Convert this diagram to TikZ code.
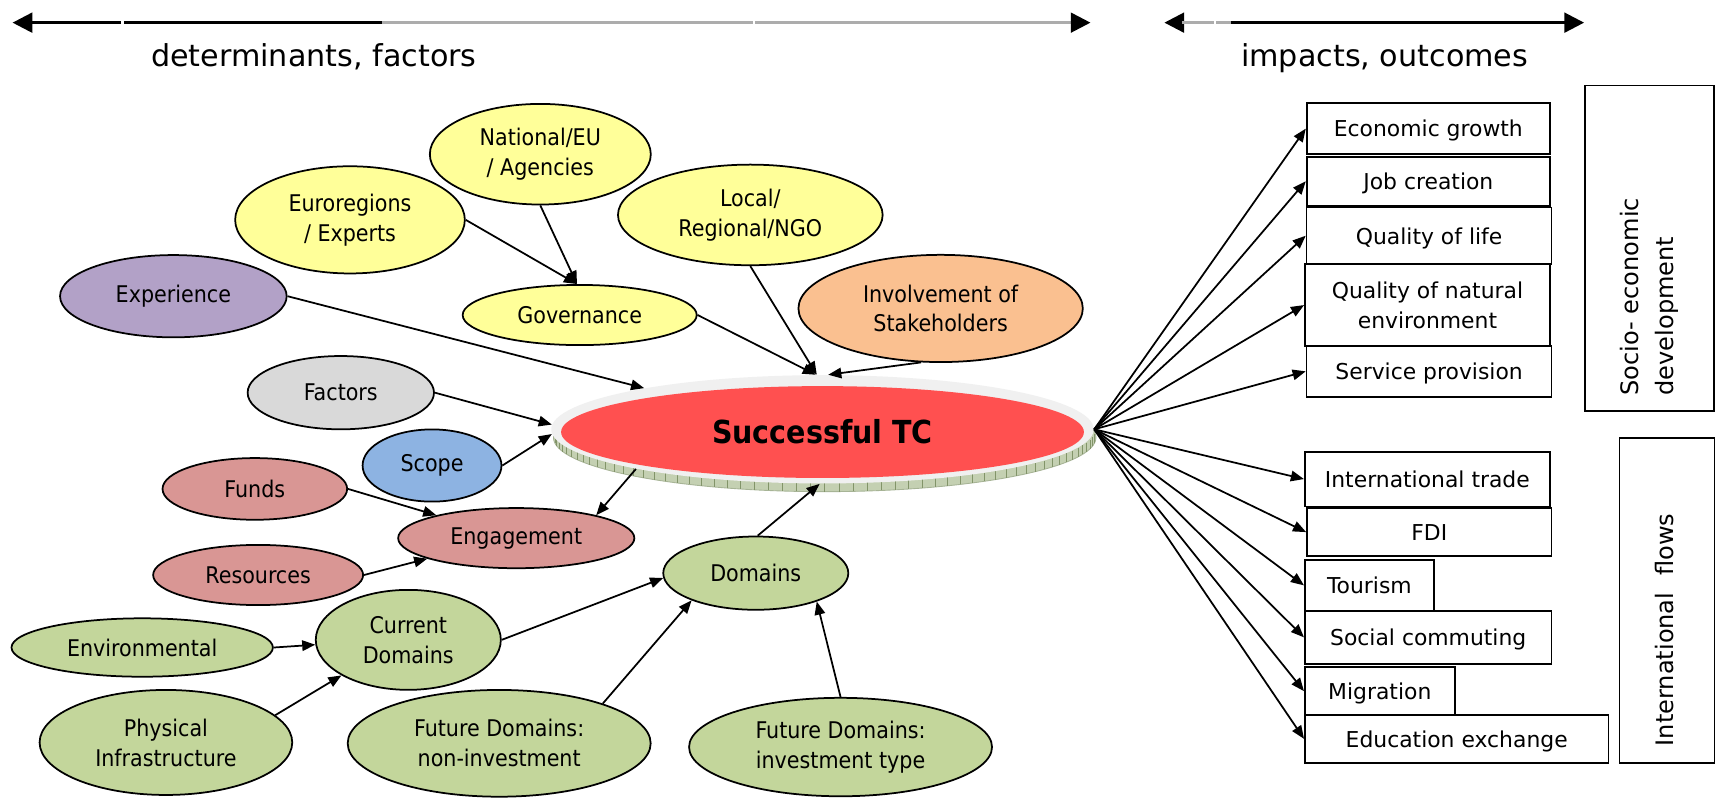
\documentclass[tikz,border=0pt]{standalone}
\usepackage{fontspec}
\setmainfont{DejaVu Sans}
\newfontfamily\condfont{DejaVu Sans Condensed}
\usetikzlibrary{shapes.geometric,arrows.meta}
\definecolor{cyel}{RGB}{255,255,153}
\definecolor{cpur}{RGB}{178,161,199}
\definecolor{cgry}{RGB}{217,217,217}
\definecolor{cblu}{RGB}{141,179,226}
\definecolor{cpnk}{RGB}{217,150,148}
\definecolor{cgrn}{RGB}{195,214,155}
\definecolor{corg}{RGB}{250,192,144}
\definecolor{cred}{RGB}{255,80,80}
\definecolor{cring}{RGB}{240,240,240}
\definecolor{cshad}{RGB}{196,208,178}
\definecolor{ctick}{RGB}{130,148,105}
\newcommand\ellfont{\condfont\fontsize{10.5}{13.7}\selectfont}
\newcommand\boxfont{\fontsize{10}{13.7}\selectfont}
\newcommand\rotfont{\fontsize{11}{16}\selectfont}
\newcommand\topfont{\fontsize{13.8}{16}\selectfont}
\tikzset{
  el/.style n args={3}{ellipse, draw=black, line width=0.8pt, fill=#1,
    minimum width=#2pt, minimum height=#3pt, inner sep=0pt, align=center, font=\ellfont},
  bx/.style 2 args={rectangle, draw=black, line width=0.8pt, minimum width=#1pt,
    minimum height=#2pt, inner sep=0pt, align=center, font=\boxfont, text depth=0pt},
  arr/.style={line width=0.8pt, -{Triangle[length=6pt,width=4.8pt]}},
  topline/.style={line width=1.3pt}
}
\begin{document}
\begin{tikzpicture}[x=0.5pt,y=-0.5pt]
\useasboundingbox (0,0) rectangle (1568,730);
\fill[white] (0,0) rectangle (1568,730);

% top axis arrows
\coordinate (la) at (11.5,20.7);
\coordinate (lm) at (349.5,20.7);
\coordinate (lb) at (997,20.7);
\draw[topline, draw=gray!65, {Triangle[length=9pt,width=9pt,color=black]}-{Triangle[length=9pt,width=9pt,color=black]}] (la) -- (lb);
\draw[topline, black, shorten <=8pt] (la) -- (lm);
\fill[white] (111,15) rectangle (113,26);
\fill[white] (688.5,15) rectangle (690.5,26);
\coordinate (ra) at (1064.6,20.7);
\coordinate (rm) at (1125.5,20.7);
\coordinate (rb) at (1448.3,20.7);
\draw[topline, black, {Triangle[length=9pt,width=9pt]}-{Triangle[length=9pt,width=9pt]}] (ra) -- (rb);
\draw[topline, draw=gray!65, shorten <=8pt] (ra) -- (rm);
\fill[white] (1110,15) rectangle (1112,26);
\node[font=\topfont] (detl) at (287,52) {determinants, factors};
\node[font=\topfont] (impl) at (1266,53) {impacts, outcomes};

% central ellipse
\fill[cshad, draw=ctick!70, line width=0.4pt] (754,400) ellipse [x radius=124pt, y radius=24.75pt];
\foreach \t in {186,189,...,354}
  \draw[ctick, line width=0.35pt] (754,400) ++(\t:124pt and 24.75pt) -- ++(0pt,4pt);
\node[ellipse, fill=cring, minimum width=248pt, minimum height=49.5pt, inner sep=0pt] (succ) at (752,392.5) {};
\node[ellipse, fill=cred, minimum width=239pt, minimum height=42pt, inner sep=0pt,
  font=\condfont\bfseries\fontsize{14.5}{16}\selectfont] (succin) at (752,395) {Successful TC};

% left ellipses
\node[el={cyel}{105}{49}] (eur) at (320,201) {Euroregions\\/ Experts};
\node[el={cyel}{101}{46}] (nat) at (494,141) {National/EU\\/ Agencies};
\node[el={cyel}{121}{46}] (loc) at (686,196.5) {Local/\\Regional/NGO};
\node[el={cyel}{107}{27.5}] (gov) at (530,288) {Governance};
\node[el={corg}{130}{49}] (inv) at (860,282) {Involvement of\\Stakeholders};
\node[el={cpur}{103.6}{37.6}] (exp) at (158.5,270.8) {Experience};
\node[el={cgry}{85.2}{33.5}] (fac) at (311.6,359) {Factors};
\node[el={cblu}{63.5}{33}] (scope) at (395,425.6) {Scope};
\node[el={cpnk}{84.4}{28.2}] (funds) at (233,447) {Funds};
\node[el={cpnk}{108}{27.5}] (eng) at (472,492) {Engagement};
\node[el={cpnk}{96}{27.5}] (res) at (236,525.7) {Resources};
\node[el={cgrn}{84.6}{33.5}] (dom) at (691,524) {Domains};
\node[el={cgrn}{119.5}{26.7}] (env) at (130,592) {Environmental};
\node[el={cgrn}{84.6}{45.7}] (cur) at (373.3,585) {Current\\Domains};
\node[el={cgrn}{115.5}{48}] (phys) at (151.7,678.8) {Physical\\Infrastructure};
\node[el={cgrn}{138.5}{48.8}] (fni) at (456.4,679.6) {Future Domains:\\non-investment};
\node[el={cgrn}{138.5}{45}] (fit) at (768.5,683) {Future Domains:\\investment type};

% right boxes
\node[bx={111.25}{23.15}] (econ) at (1305.9,117.6) {Economic growth};
\node[bx={111.25}{22.35}] (job) at (1305.9,165.7) {Job creation};
\node[bx={112}{25.9}] (qol) at (1306.6,215.5) {Quality of life};
\node[bx={112}{37.45}] (qne) at (1305.1,278.9) {Quality of natural\\environment};
\node[bx={112}{23.2}] (serv) at (1306.6,339.5) {Service provision};
\node[bx={59}{148.75}] (sociobox) at (1508,226.8) {};
\node[rotate=90, anchor=west, align=left, inner sep=0pt, font=\rotfont] (sociot) at (1508,362) {Socio- economic\\development};
\node[bx={112}{25}] (it) at (1305,438) {International trade};
\node[bx={111.8}{21.8}] (fdi) at (1306.8,486.5) {FDI};
\node[bx={59}{23.15}] (tour) at (1252,535.2) {Tourism};
\node[bx={112.8}{24.35}] (soc) at (1305.8,582.7) {Social commuting};
\node[bx={68.5}{21.85}] (mig) at (1261.5,631.9) {Migration};
\node[bx={138.75}{21.8}] (edu) at (1331.8,675.5) {Education exchange};
\node[bx={43.45}{148.3}] (flowbox) at (1524.2,549) {};
\node[rotate=90, anchor=west, inner sep=0pt, font=\rotfont] (flowt) at (1521.5,682.6) {International\hspace{0.7em}flows};

% connectors
\draw[arr] (eur.east) -- (gov.95);
\draw[arr] (nat.south) -- (gov.95);
\draw[arr] (gov.east) -- (succ.97.6);
\draw[arr] (loc.south) -- (succ.96);
\draw[arr] (inv.250) -- (succ.84);
\draw[arr] (exp.east) -- (succ.167.4);
\draw[arr] (fac.east) -- (succ.179);
\draw[arr] (scope.east) -- (succ.181);
\draw[arr] (succ.192.2) -- (eng.16);
\draw[arr] (funds.east) -- (eng.164.8);
\draw[arr] (res.east) -- (eng.193.8);
\draw[arr] (dom.87) -- (succ.267.5);
\draw[arr] (cur.east) -- (dom.183);
\draw[arr] (env.east) -- (cur.183);
\draw[arr] (phys.14) -- (cur.208.3);
\draw[arr] (fni.21) -- (dom.203.3);
\draw[arr] (fit.north) -- (dom.335.8);
\foreach \b in {econ,job,qol,qne,serv,it,fdi,tour,soc,mig,edu}
  \draw[arr] (succ.east) -- (\b.west);
\end{tikzpicture}
\end{document}
